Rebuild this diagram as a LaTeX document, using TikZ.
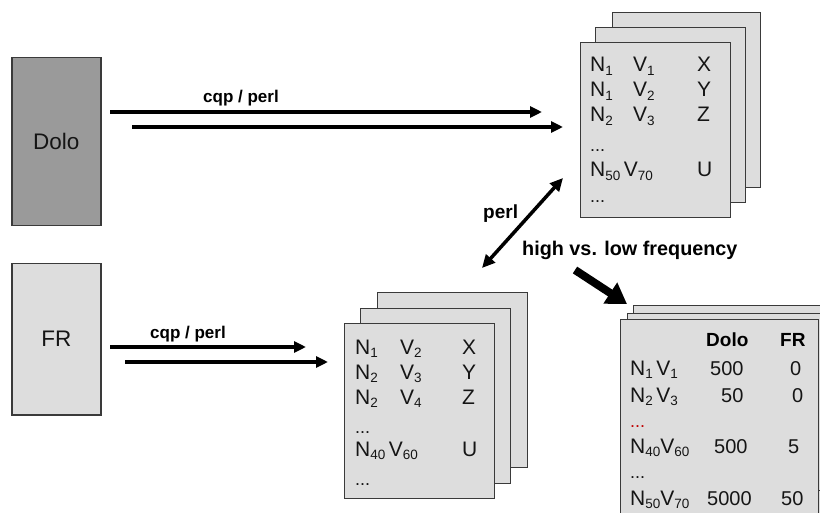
\documentclass[tikz,border=0pt]{standalone}
\usepackage{fontspec}
\setmainfont{Liberation Sans}
\usetikzlibrary{arrows.meta}
\definecolor{boxgray}{HTML}{DDDDDD}
\definecolor{dologray}{HTML}{9A9A9A}
\definecolor{bordercol}{HTML}{3A3A3A}
\definecolor{textcol}{HTML}{151515}
\definecolor{dotred}{HTML}{C00000}
\newcommand\lsb[1]{\raisebox{-3.5pt}{\fontsize{13.5}{13.5}\selectfont #1}}
\newcommand\ddd{{\fontsize{18}{18}\selectfont ...}}
\tikzset{
  sheet/.style={draw=bordercol, line width=1.3pt, fill=boxgray, anchor=north west, inner sep=0pt},
  srcbox/.style={draw=bordercol, line width=1.5pt, anchor=north west, inner sep=0pt, text=textcol, font=\fontsize{22.5}{22.5}\selectfont},
  txt/.style={anchor=base west, inner sep=0pt, text=textcol, font=\fontsize{21}{21}\selectfont},
  num/.style={anchor=base west, inner sep=0pt, text=textcol, font=\fontsize{20}{20}\selectfont},
  lbl/.style={anchor=base west, inner sep=0pt, text=black, font=\bfseries\fontsize{17}{17}\selectfont},
  harrow/.style={line width=3.5pt, -{Triangle[length=12pt,width=11pt]}},
  darrow/.style={line width=3.5pt, {Triangle[length=13pt,width=12pt]}-{Triangle[length=13pt,width=12pt]}},
  bigarrow/.style={line width=8pt, -{Triangle[length=20pt,width=24pt]}}
}
\begin{document}
\begin{tikzpicture}[x=1pt,y=-1pt]
\useasboundingbox (0,0) rectangle (820,513);
\clip (0,0) rectangle (820,513);
\fill[white] (0,0) rectangle (820,513);

% source boxes
\node[srcbox, fill=dologray, minimum width=89pt, minimum height=168pt] (dolo) at (11,57) {Dolo};
\node[srcbox, fill=boxgray, minimum width=89pt, minimum height=151pt] (fr) at (11,263) {FR};

% top-right stack
\node[sheet, minimum width=148pt, minimum height=175pt] (tb3) at (612,12) {};
\node[sheet, minimum width=150pt, minimum height=175pt] (tb2) at (595,27) {};
\node[sheet, minimum width=150pt, minimum height=175pt] (tb1) at (580,42) {};
\node[txt] (ta1) at (590,72) {N\lsb{1}};
\node[txt] (ta2) at (633,72) {V\lsb{1}};
\node[txt] (ta3) at (697,72) {X};
\node[txt] (tb1n) at (590,97) {N\lsb{1}};
\node[txt] (tb2n) at (633,97) {V\lsb{2}};
\node[txt] (tb3n) at (697,97) {Y};
\node[txt] (tc1) at (590,122) {N\lsb{2}};
\node[txt] (tc2) at (633,122) {V\lsb{3}};
\node[txt] (tc3) at (697,122) {Z};
\node[txt] (td1) at (590,152) {\ddd};
\node[txt] (te1) at (590,177) {N\lsb{50}\,V\lsb{70}};
\node[txt] (te3) at (697,177) {U};
\node[txt] (tf1) at (590,203) {\ddd};

% bottom-middle stack
\node[sheet, minimum width=150pt, minimum height=175pt] (mb3) at (377,292) {};
\node[sheet, minimum width=150pt, minimum height=175pt] (mb2) at (360,308) {};
\node[sheet, minimum width=150pt, minimum height=175pt] (mb1) at (344,323) {};
\node[txt] (ma1) at (355,354) {N\lsb{1}};
\node[txt] (ma2) at (400,354) {V\lsb{2}};
\node[txt] (ma3) at (462,354) {X};
\node[txt] (mb1n) at (355,379) {N\lsb{2}};
\node[txt] (mb2n) at (400,379) {V\lsb{3}};
\node[txt] (mb3n) at (462,379) {Y};
\node[txt] (mc1) at (355,404) {N\lsb{2}};
\node[txt] (mc2) at (400,404) {V\lsb{4}};
\node[txt] (mc3) at (462,404) {Z};
\node[txt] (md1) at (355,433) {\ddd};
\node[txt] (me1) at (355,456) {N\lsb{40}\,V\lsb{60}};
\node[txt] (me3) at (462,456) {U};
\node[txt] (mf1) at (355,485) {\ddd};

% bottom-right stack
\node[sheet, minimum width=200pt, minimum height=230pt] (rb3) at (633,305) {};
\node[sheet, minimum width=200pt, minimum height=177pt] (rb2) at (627,313) {};
\node[sheet, minimum width=198pt, minimum height=230pt] (rb1) at (620,319) {};
\node[lbl, font=\bfseries\fontsize{19}{19}\selectfont] (rh1) at (706,347) {Dolo};
\node[lbl, font=\bfseries\fontsize{19}{19}\selectfont] (rh2) at (780,347) {FR};
\node[txt] (ra1) at (630,375) {N\lsb{1}\,V\lsb{1}};
\node[num] (ra2) at (710,375) {500};
\node[num] (ra3) at (790,375) {0};
\node[txt] (rb1n) at (630,402) {N\lsb{2}\,V\lsb{3}};
\node[num] (rb2n) at (721,402) {50};
\node[num] (rb3n) at (792,402) {0};
\node[txt, text=dotred] (rc1) at (630,427) {\ddd};
\node[txt] (rd1) at (630,453) {N\lsb{40}V\lsb{60}};
\node[num] (rd2) at (714,453) {500};
\node[num] (rd3) at (788,453) {5};
\node[txt] (re1) at (630,478) {\ddd};
\node[txt] (rf1) at (630,505) {N\lsb{50}V\lsb{70}};
\node[num] (rf2) at (707,505) {5000};
\node[num] (rf3) at (781,505) {50};

% arrows top
\coordinate (a1s) at (110,112);
\coordinate (a1e) at (542,112);
\coordinate (a2s) at (132,127);
\coordinate (a2e) at (563,127);
\draw[harrow] (a1s) -- (a1e);
\draw[harrow] (a2s) -- (a2e);
\node[lbl] (l1) at (203,103) {cqp / perl};

% arrows bottom
\coordinate (b1s) at (110,347);
\coordinate (b1e) at (306,347);
\coordinate (b2s) at (125,362);
\coordinate (b2e) at (328,362);
\draw[harrow] (b1s) -- (b1e);
\draw[harrow] (b2s) -- (b2e);
\node[lbl] (l2) at (150,338) {cqp / perl};

% double arrow and thick arrow
\coordinate (p1) at (482,268);
\coordinate (p2) at (563,178);
\draw[darrow] (p1) -- (p2);
\node[lbl, font=\bfseries\fontsize{19}{19}\selectfont] (l3) at (483,219) {perl};
\node[lbl, font=\bfseries\fontsize{19.8}{19.8}\selectfont] (l4) at (522,256) {high vs. low frequency};
\coordinate (q1) at (575,270);
\coordinate (q2) at (627,304);
\draw[bigarrow] (q1) -- (q2);
\end{tikzpicture}
\end{document}
